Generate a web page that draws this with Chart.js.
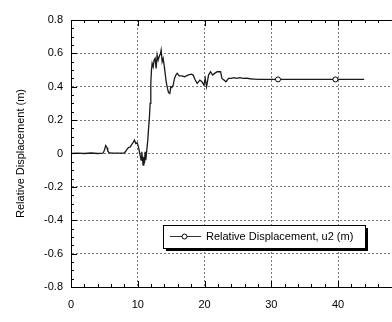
<!DOCTYPE html>
<html>
<head>
<meta charset="utf-8">
<script src="https://cdn.jsdelivr.net/npm/chart.js@4.4.1/dist/chart.umd.min.js"></script>
<style>
html,body{margin:0;padding:0;background:#fff;overflow:hidden;width:392px;height:322px;}
#wrap{width:422px;height:322px;}
</style>
</head>
<body>
<div id="wrap"><canvas id="c" width="422" height="322"></canvas></div>
<script>
// Time (s) and relative displacement u2 (m)
const times = [0,1,2,3,4,4.8,5.0,5.2,5.4,5.5,5.7,6,7,8.0,8.3,8.6,8.9,9.1,9.3,9.5,9.7,9.9,10.1,10.3,10.5,10.6,10.8,10.9,11.0,11.1,11.2,11.35,11.5,11.6,11.75,11.85,11.95,12.05,12.15,12.3,12.45,12.6,12.75,12.9,13.05,13.2,13.4,13.5,13.65,13.8,13.95,14.1,14.25,14.45,14.6,14.8,14.95,15.1,15.3,15.5,15.7,15.9,16.2,16.6,17.0,17.5,18.0,18.3,18.6,18.9,19.3,19.6,19.9,20.1,20.3,20.6,20.9,21.2,21.5,21.9,22.2,22.4,22.6,22.9,23.2,23.6,24.0,24.4,24.8,25.3,25.8,26.3,26.8,27.4,28.1,31.0,35.0,39.6,43.9];
const displacement = [0,0.002,0,0.003,0,0.002,0.02,0.048,0.035,0.015,0.005,0.003,0.002,0.003,0.02,0.035,0.04,0.055,0.065,0.08,0.06,0.065,0.04,0.0,-0.04,0.01,-0.07,-0.02,-0.06,0.01,-0.04,0.02,0.08,0.14,0.22,0.3,0.42,0.5,0.54,0.52,0.56,0.57,0.51,0.59,0.56,0.58,0.6,0.62,0.55,0.57,0.53,0.48,0.43,0.39,0.365,0.36,0.4,0.395,0.41,0.45,0.47,0.48,0.465,0.465,0.46,0.47,0.475,0.47,0.44,0.42,0.44,0.43,0.41,0.45,0.40,0.47,0.49,0.47,0.48,0.49,0.49,0.49,0.45,0.44,0.43,0.45,0.45,0.455,0.45,0.455,0.45,0.452,0.448,0.446,0.444,0.444,0.444,0.444,0.444];
const markerTimes = [31.0, 39.6];
const seriesLabel = 'Relative Displacement, u2 (m)';
const yTitle = 'Relative Displacement (m)';
const xMin = 0, xMax = 50, xStep = 10, xMinor = 2;
const yMin = -0.8, yMax = 0.8, yStep = 0.2, yMinor = 0.05;

const points = times.map((t, i) => ({x: t, y: displacement[i]}));
const FONT = 'Liberation Sans, Arial, Helvetica, sans-serif';

const framePlugin = {
  id: 'frame',
  afterDraw(chart) {
    const {ctx, chartArea: a, scales: {x, y}} = chart;
    ctx.save();
    ctx.strokeStyle = '#000';
    ctx.lineWidth = 1;
    ctx.beginPath();
    ctx.moveTo(a.left, a.top + 0.5); ctx.lineTo(a.right, a.top + 0.5);
    ctx.moveTo(a.right - 0.5, a.top); ctx.lineTo(a.right - 0.5, a.bottom);
    // x ticks (inward), bottom and top
    for (let v = xMin; v <= xMax + 1e-9; v += xMinor) {
      const px = Math.round(x.getPixelForValue(v)) + 0.5;
      const major = Math.abs(v / xStep - Math.round(v / xStep)) < 1e-6;
      const len = major ? 6 : 3;
      ctx.moveTo(px, a.bottom); ctx.lineTo(px, a.bottom - len);
      ctx.moveTo(px, a.top); ctx.lineTo(px, a.top + len);
    }
    for (let v = yMin; v <= yMax + 1e-9; v += yMinor) {
      const py = Math.round(y.getPixelForValue(v)) + 0.5;
      const major = Math.abs(v / yStep - Math.round(v / yStep)) < 1e-6;
      const len = major ? 6 : 3;
      ctx.moveTo(a.left, py); ctx.lineTo(a.left + len, py);
      ctx.moveTo(a.right, py); ctx.lineTo(a.right - len, py);
    }
    ctx.stroke();

    // legend box
    const bx = a.left + 92, by = a.top + 205, bw = 202, bh = 23;
    ctx.fillStyle = '#000';
    ctx.fillRect(bx + 3, by + 3, bw, bh);
    ctx.fillStyle = '#fff';
    ctx.fillRect(bx, by, bw, bh);
    ctx.strokeStyle = '#000';
    ctx.lineWidth = 1;
    ctx.strokeRect(bx + 0.5, by + 0.5, bw, bh);
    const ly = by + 11.5;
    ctx.strokeStyle = '#333';
    ctx.beginPath();
    ctx.moveTo(bx + 7, ly); ctx.lineTo(bx + 38, ly);
    ctx.stroke();
    ctx.beginPath();
    ctx.arc(bx + 21.5, ly, 2.5, 0, Math.PI * 2);
    ctx.fillStyle = '#fff'; ctx.fill();
    ctx.strokeStyle = '#000'; ctx.stroke();
    ctx.fillStyle = '#000';
    ctx.font = '11px ' + FONT;
    ctx.textBaseline = 'middle';
    ctx.textAlign = 'left';
    ctx.fillText(seriesLabel, bx + 43, ly + 0.5);
    ctx.restore();
  }
};

const gridColor = (c) => {
  const v = c.tick ? c.tick.value : null;
  if (v === null) return 'rgba(0,0,0,0)';
  const sc = c.scale;
  if (Math.abs(v - sc.min) < 1e-9 || Math.abs(v - sc.max) < 1e-9) return 'rgba(0,0,0,0)';
  return '#777';
};

new Chart(document.getElementById('c'), {
  type: 'line',
  data: {
    datasets: [{
      label: seriesLabel,
      data: points,
      borderColor: '#1a1a1a',
      borderWidth: 1.3,
      tension: 0,
      fill: false,
      pointRadius: (c) => (c.raw && markerTimes.includes(c.raw.x)) ? 2.5 : 0,
      pointHoverRadius: 0,
      pointBackgroundColor: '#fff',
      pointBorderColor: '#000',
      pointBorderWidth: 1
    }]
  },
  options: {
    responsive: false,
    animation: false,
    devicePixelRatio: 1,
    layout: {padding: {left: 0, right: 14, top: 20, bottom: 0}},
    plugins: {legend: {display: false}, tooltip: {enabled: false}},
    scales: {
      x: {
        type: 'linear', min: xMin, max: xMax,
        afterFit: (s) => { s.height = 35; },
        ticks: {stepSize: xStep, padding: 11, color: '#000', font: {family: FONT, size: 11}},
        grid: {drawTicks: false, color: gridColor, lineWidth: 1},
        border: {display: true, color: '#000', width: 1, dash: [2, 2]}
      },
      y: {
        type: 'linear', min: yMin, max: yMax,
        afterFit: (s) => { s.width = 71; },
        ticks: {stepSize: yStep, padding: 8, color: '#000', font: {family: FONT, size: 11},
          callback: (v) => String(Math.round(v * 10) / 10)},
        grid: {drawTicks: false, color: gridColor, lineWidth: 1},
        border: {display: true, color: '#000', width: 1, dash: [2, 2]},
        title: {display: true, text: yTitle, color: '#000', font: {family: FONT, size: 11}, padding: {top: 14, bottom: 0}}
      }
    }
  },
  plugins: [framePlugin]
});
</script>
</body>
</html>
